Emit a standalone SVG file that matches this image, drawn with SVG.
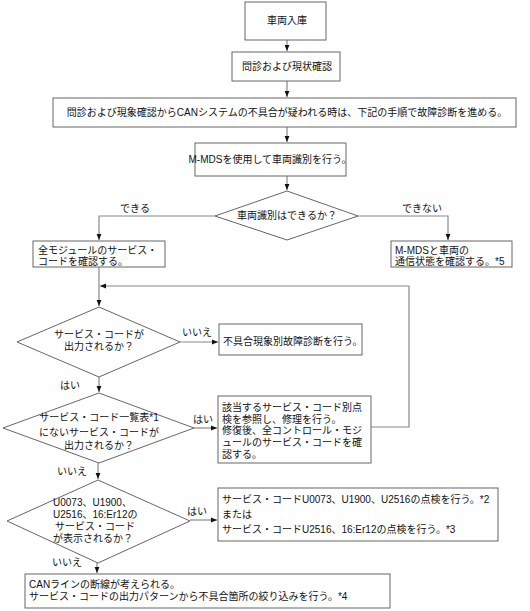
<svg xmlns="http://www.w3.org/2000/svg" width="530" height="611" viewBox="0 0 530 611">
<style>
text{font-family:"Liberation Sans","Noto Sans CJK JP",sans-serif;font-size:10px;fill:#111}
.c{text-anchor:middle}
.b{fill:#fff;stroke:#666;stroke-width:1}
.l{fill:none;stroke:#888;stroke-width:1.2}
</style>
<defs>
<marker id="a" viewBox="0 0 10 10" refX="10" refY="5" markerWidth="6" markerHeight="6" markerUnits="userSpaceOnUse" orient="auto"><path d="M0,1 L10,5 L0,9 Z" fill="#111"/></marker>
</defs>
<rect width="530" height="611" fill="#fff"/>
<g id="connectors">
<path class="l" d="M287,40 V51" marker-end="url(#a)"/>
<path class="l" d="M287,81 V97" marker-end="url(#a)"/>
<path class="l" d="M287,127 V142" marker-end="url(#a)"/>
<path class="l" d="M287,176 V190" marker-end="url(#a)"/>
<path class="l" d="M215,216 H99 V240" marker-end="url(#a)"/>
<path class="l" d="M358,216 H448 V240" marker-end="url(#a)"/>
<path class="l" d="M99,267 V306" marker-end="url(#a)"/>
<path class="l" d="M371,427 H409 V286 H100" marker-end="url(#a)"/>
<path class="l" d="M180,342 H218" marker-end="url(#a)"/>
<path class="l" d="M99,377 V392" marker-end="url(#a)"/>
<path class="l" d="M194,428 H217" marker-end="url(#a)"/>
<path class="l" d="M98,463 V479" marker-end="url(#a)"/>
<path class="l" d="M190,520 H217" marker-end="url(#a)"/>
<path class="l" d="M97,563 V573" marker-end="url(#a)"/>
<text x="135" y="212" class="c">できる</text>
<text x="422" y="212" class="c">できない</text>
<text x="197" y="336" class="c">いいえ</text>
<text x="70" y="389" class="c">はい</text>
<text x="203" y="423" class="c">はい</text>
<text x="72" y="475" class="c">いいえ</text>
<text x="197" y="515" class="c">はい</text>
<text x="67" y="566" class="c">いいえ</text>
</g>
<g id="n1"><rect class="b" x="245" y="2" width="81" height="38"/><text x="287" y="24" class="c">車両入庫</text></g>
<g id="n2"><rect class="b" x="232" y="52" width="108" height="29"/><text x="287" y="70" class="c">問診および現状確認</text></g>
<g id="n3"><rect class="b" x="53" y="98" width="463" height="29"/><text x="287" y="116" class="c">問診および現象確認からCANシステムの不具合が疑われる時は、下記の手順で故障診断を進める。</text></g>
<g id="n4"><rect class="b" x="195" y="143" width="151" height="33"/><text x="270" y="163" class="c">M-MDSを使用して車両識別を行う。</text></g>
<g id="n5"><path class="b" d="M287,191 L358,216 L287,240 L215,216 Z"/><text x="287" y="219" class="c">車両識別はできるか？</text></g>
<g id="n6"><rect class="b" x="33" y="241" width="132" height="26"/><text x="38" y="254">全モジュールのサービス・</text><text x="38" y="265">コードを確認する。</text></g>
<g id="n7"><rect class="b" x="391" y="241" width="121" height="26"/><text x="395" y="254">M-MDSと車両の</text><text x="395" y="265">通信状態を確認する。*5</text></g>
<g id="n8"><path class="b" d="M99,307 L180,342 L99,377 L17,342 Z"/><text x="99" y="338" class="c">サービス・コードが</text><text x="99" y="350" class="c">出力されるか？</text></g>
<g id="n9"><rect class="b" x="219" y="324" width="143" height="31"/><text x="223" y="345">不具合現象別故障診断を行う。</text></g>
<g id="n10"><path class="b" d="M99,393 L194,428 L99,463 L3,428 Z"/><text x="99" y="421" class="c">サービス・コード一覧表*1</text><text x="99" y="436" class="c">にないサービス・コードが</text><text x="99" y="449" class="c">出力されるか？</text></g>
<g id="n11"><rect class="b" x="218" y="396" width="153" height="67"/><text x="222" y="411">該当するサービス・コード別点</text><text x="222" y="423">検を参照し、修理を行う。</text><text x="222" y="434">修復後、全コントロール・モジ</text><text x="222" y="446">ュールのサービス・コードを確</text><text x="222" y="458">認する。</text></g>
<g id="n12"><path class="b" d="M98,480 L190,521 L98,563 L7,521 Z"/><text x="53" y="506">U0073、U1900、</text><text x="53" y="518">U2516、16:Er12の</text><text x="55" y="530">サービス・コード</text><text x="53" y="542">が表示されるか？</text></g>
<g id="n13"><rect class="b" x="218" y="488" width="280" height="53"/><text x="222" y="503">サービス・コードU0073、U1900、U2516の点検を行う。*2</text><text x="222" y="518">または</text><text x="222" y="533">サービス・コードU2516、16:Er12の点検を行う。*3</text></g>
<g id="n14"><rect class="b" x="25" y="574" width="365" height="34"/><text x="29" y="588">CANラインの断線が考えられる。</text><text x="29" y="600">サービス・コードの出力パターンから不具合箇所の絞り込みを行う。*4</text></g>
</svg>
